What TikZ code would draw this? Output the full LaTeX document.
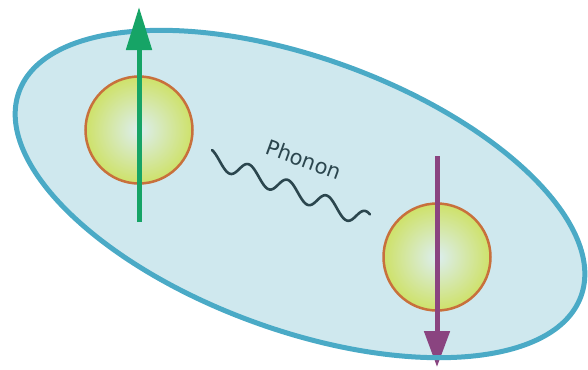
\documentclass[tikz,border=0pt]{standalone}
\usepackage{fontspec}
\setsansfont{DejaVu Sans}
\usetikzlibrary{arrows.meta}

\definecolor{cellfill}{HTML}{CFE8EE}
\definecolor{cellline}{HTML}{4AAAC6}
\definecolor{ballin}{HTML}{DCEEF0}
\definecolor{ballout}{HTML}{C8DC2E}
\definecolor{ballrim}{HTML}{C8703C}
\definecolor{spinup}{HTML}{16A466}
\definecolor{spindown}{HTML}{8A4480}
\definecolor{wavecol}{HTML}{2B464E}

% light centre fading into the yellow-green body of each ion
\pgfdeclareradialshading{ballshade}{\pgfpoint{0bp}{0bp}}{%
  color(0bp)=(ballin); color(36bp)=(ballout); color(50bp)=(ballout)}

\tikzset{
  ball/.style={circle, inner sep=0pt, minimum size=107bp,
    shading=ballshade, draw=ballrim, line width=2.5bp},
  spinshaft/.style={line width=5bp},
  celledge/.style={draw=cellline, line width=5bp},
  wavy/.style={draw=wavecol, line width=2.6bp, line cap=round},
  label/.style={text=wavecol, font=\sffamily\fontsize{21bp}{21bp}\selectfont}
}

\begin{document}
\begin{tikzpicture}[x=1bp, y=-1bp]
  \useasboundingbox (0,0) rectangle (588,369);

  % the Cooper-pair region
  \coordinate (cellC) at (300,194);
  \path[fill=cellfill, rotate around={-20:(cellC)}]
    (cellC) ellipse [x radius=299, y radius=136];

  % the two electrons
  \node[ball] (ballA) at (139,130) {};
  \node[ball] (ballB) at (437,257) {};

  % spin down
  \coordinate (downTail) at (437,156);
  \coordinate (downTip) at (437,367);
  \draw[spindown, spinshaft, -{Triangle[length=36bp, width=25bp]}]
    (downTail) -- (downTip);

  % outline of the region
  \path[celledge, rotate around={-20:(cellC)}]
    (cellC) ellipse [x radius=299, y radius=136];

  % spin up
  \coordinate (upTail) at (139,222);
  \coordinate (upTip) at (139,7);
  \draw[spinup, spinshaft, -{Triangle[length=43bp, width=25bp]}]
    (upTail) -- (upTip);

  % exchanged phonon
  \draw[wavy] plot[domain=0:1, samples=240, smooth, variable=\t]
    ({212+158*\t}, {158.1+63.2*\t-8.5*cos(18.46+1458.46*\t)});
  \node[label, rotate=-20, anchor=base] (phonon) at (301,167) {Phonon};
\end{tikzpicture}
\end{document}
